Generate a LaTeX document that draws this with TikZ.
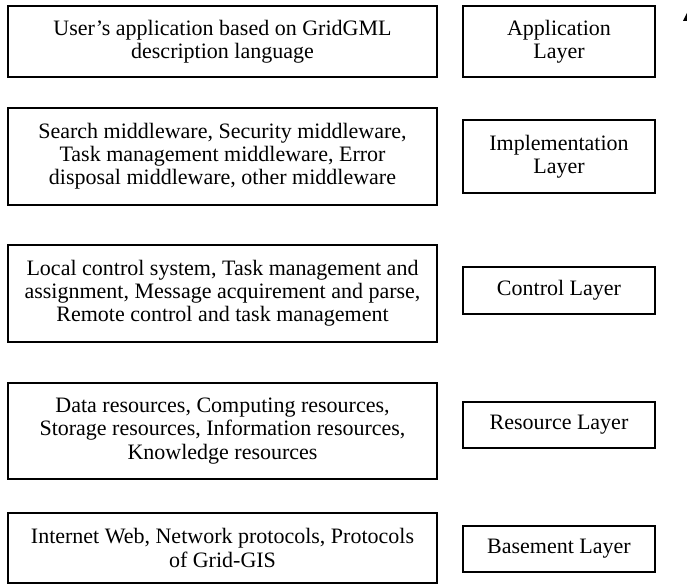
\documentclass[tikz,border=0pt]{standalone}
\usepackage{fontspec}
\setmainfont{Liberation Serif}

\tikzset{
  layerbox/.style={draw, line width=1.2pt, align=center, inner sep=0pt,
    font=\fontsize{16.5}{17.4}\selectfont},
  descbox/.style={layerbox, minimum width=321.75pt},
  namebox/.style={layerbox, minimum width=144pt}
}

\begin{document}
\begin{tikzpicture}[x=0.75pt,y=0.75pt,yscale=-1,xscale=1]
\useasboundingbox (0,0) rectangle (687,584);

% Description boxes
\draw (222.5,41.5) node [descbox, minimum height=53.25pt] (userapp) {User's application based on GridGML\\description language};
\draw (222.5,156.5) node [descbox, minimum height=72.75pt] (middleware) {Search middleware, Security middleware,\\Task management middleware, Error\\disposal middleware, other middleware};
\draw (222.5,293.5) node [descbox, minimum height=72.75pt] (control) {Local control system, Task management and\\assignment, Message acquirement and parse,\\Remote control and task management};
\draw (222.5,431) node [descbox, minimum height=72pt] (resources) {Data resources, Computing resources,\\Storage resources, Information resources,\\Knowledge resources};
\draw (222.5,548) node [descbox, minimum height=52.5pt] (protocols) {Internet Web, Network protocols, Protocols\\of Grid-GIS};

% Layer names
\draw (559,41.5) node [namebox, minimum height=53.25pt] (applayer) {Application\\Layer};
\draw (559,156.5) node [namebox, minimum height=54.75pt] (implayer) {Implementation\\Layer};
\draw (559,290.5) node [namebox, minimum height=35.25pt] (ctrllayer) {Control Layer};
\draw (559,425) node [namebox, minimum height=34.5pt] (reslayer) {Resource Layer};
\draw (559,549) node [namebox, minimum height=34.5pt] (baselayer) {Basement Layer};

% arrow tip at the edge
\fill (683,21) -- (687,13) -- (687,21) -- cycle;

\end{tikzpicture}
\end{document}
